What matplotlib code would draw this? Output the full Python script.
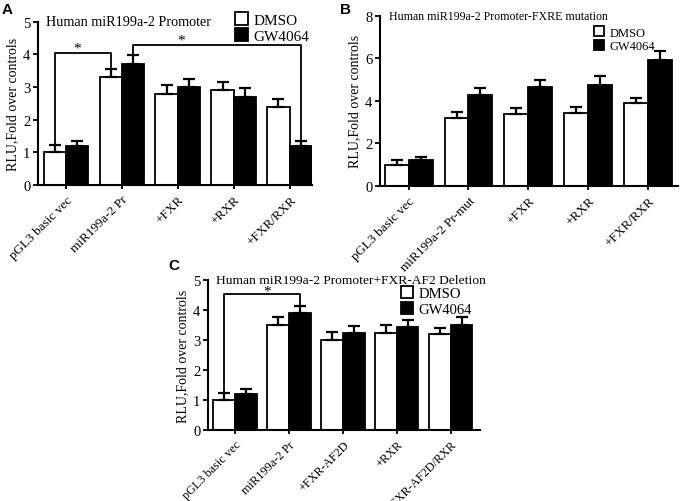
import numpy as np
import matplotlib
matplotlib.use("Agg")
import matplotlib.pyplot as plt

plt.rcParams["font.family"] = ["Liberation Serif", "DejaVu Serif"]

# panel A
cats_a = ["pGL3 basic vec", "miR199a-2 Pr", "+FXR", "+RXR", "+FXR/RXR"]
dmso_a = [1.0, 3.3, 2.8, 2.9, 2.4]
dmso_a_err = [0.24, 0.27, 0.26, 0.26, 0.23]
gw_a = [1.2, 3.7, 3.0, 2.7, 1.2]
gw_a_err = [0.16, 0.27, 0.24, 0.26, 0.16]

# panel B
cats_b = ["pGL3 basic vec", "miR199a-2 Pr-mut", "+FXR", "+RXR", "+FXR/RXR"]
dmso_b = [1.0, 3.2, 3.4, 3.45, 3.9]
dmso_b_err = [0.22, 0.28, 0.25, 0.25, 0.22]
gw_b = [1.2, 4.3, 4.65, 4.75, 5.9]
gw_b_err = [0.15, 0.33, 0.35, 0.4, 0.44]

# panel C
cats_c = ["pGL3 basic vec", "miR199a-2 Pr", "+FXR-AF2D", "+RXR", "+FXR-AF2D/RXR"]
dmso_c = [1.0, 3.5, 3.0, 3.25, 3.2]
dmso_c_err = [0.23, 0.28, 0.26, 0.25, 0.2]
gw_c = [1.2, 3.9, 3.25, 3.45, 3.5]
gw_c_err = [0.17, 0.24, 0.21, 0.23, 0.26]

W = 0.4


def draw_panel(ax, cats, dmso, dmso_err, gw, gw_err, ymax, ystep, title,
               title_size, leg_size, xlim, legend_xy, xlab_size=9.5):
    x = np.arange(len(cats))
    ekw = dict(elinewidth=1.6, capthick=1.6, ecolor="black")
    ax.bar(x - W / 2, dmso, W, color="white", edgecolor="black", linewidth=1.3,
           yerr=[np.zeros(len(x)), dmso_err], capsize=4, error_kw=ekw,
           label="DMSO")
    ax.bar(x + W / 2, gw, W, color="black", edgecolor="black", linewidth=1.3,
           yerr=[np.zeros(len(x)), gw_err], capsize=4, error_kw=ekw,
           label="GW4064")
    ax.set_xlim(*xlim)
    ax.set_ylim(0, ymax)
    ax.set_yticks(np.arange(0, ymax + 0.01, ystep))
    ax.set_xticks(x)
    ax.set_xticklabels(cats, rotation=45, ha="right", rotation_mode="anchor",
                       fontsize=xlab_size)
    ax.tick_params(axis="y", labelsize=10.5, width=1.3, length=3.5, pad=2)
    ax.tick_params(axis="x", width=1.3, length=3, pad=3)
    for s in ["top", "right"]:
        ax.spines[s].set_visible(False)
    for s in ["left", "bottom"]:
        ax.spines[s].set_linewidth(1.5)
    ax.set_ylabel("RLU,Fold over controls", fontsize=10, labelpad=3)
    ax.text(0.03, 1.0, title, transform=ax.transAxes, fontsize=title_size,
            va="center", ha="left")
    ax.legend(loc="upper left", bbox_to_anchor=legend_xy, frameon=False,
              fontsize=leg_size, handlelength=0.8, handleheight=0.9,
              handletextpad=0.4, labelspacing=0.1, borderaxespad=0,
              borderpad=0)
    return x


def bracket(ax, x1, y1, x2, y2, top, star_x, star_y):
    ax.plot([x1, x1, x2, x2], [y1, top, top, y2], color="black", lw=1.3)
    ax.text(star_x, star_y, "*", ha="center", va="center", fontsize=11)


fig = plt.figure(figsize=(6.8, 5.02), dpi=100)

ax_a = fig.add_axes([0.0559, 0.6295, 0.403, 0.325])
xa = draw_panel(ax_a, cats_a, dmso_a, dmso_a_err, gw_a, gw_a_err, 5, 1,
                "Human miR199a-2 Promoter", 10.2, 11, (-0.5, 4.4), (0.72, 1.06))
bracket(ax_a, xa[0] - W / 2, 1.27, xa[1] - W / 2, 3.63, 4.05, 0.2, 4.2)
bracket(ax_a, xa[1] + W / 2, 4.0, xa[4] + W / 2, 1.38, 4.28, 2.05, 4.43)

ax_b = fig.add_axes([0.5588, 0.6275, 0.438, 0.339])
draw_panel(ax_b, cats_b, dmso_b, dmso_b_err, gw_b, gw_b_err, 8, 2,
           "Human miR199a-2 Promoter-FXRE mutation", 8.6, 9, (-0.48, 4.5),
           (0.72, 0.94))

ax_c = fig.add_axes([0.3059, 0.1414, 0.4, 0.2988])
xc = draw_panel(ax_c, cats_c, dmso_c, dmso_c_err, gw_c, gw_c_err, 5, 1,
                "Human miR199a-2 Promoter+FXR-AF2 Deletion", 9.7, 10.5,
                (-0.5, 4.54), (0.71, 0.96), xlab_size=8.8)
bracket(ax_c, xc[0] - W / 2, 1.27, xc[1] + W / 2, 4.18, 4.55, 0.6, 4.62)

for label, (lx, ly) in zip("ABC", [(0.002, 0.995), (0.5, 0.995), (0.248, 0.484)]):
    fig.text(lx, ly, label, fontsize=11, fontweight="bold",
             family="Liberation Sans", va="top", ha="left")

fig.savefig("out.png", dpi=100)
